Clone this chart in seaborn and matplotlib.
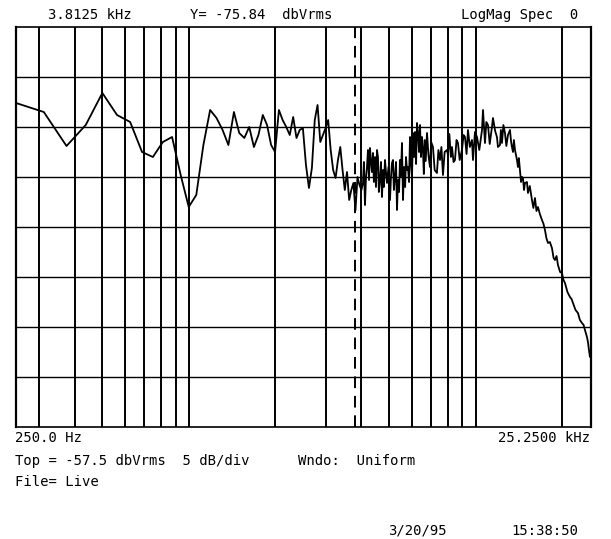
# spectrum analyzer screen: LogMag Spec, 250 Hz .. 25.25 kHz, log x axis

import numpy as np
import pandas as pd
import matplotlib
matplotlib.use("Agg")
import matplotlib.pyplot as plt
import seaborn as sns

# low band: one value per FFT bin (62.5 Hz steps from 250 Hz), dBVrms
bin_step = 62.5
low_levels = [
    -65.1, -66.0, -69.4, -67.3, -64.1, -66.3, -67.0, -70.0, -70.5, -69.0,
    -68.5, -72.3, -75.5, -74.3, -69.3, -65.8, -66.6, -67.8, -69.3, -66.0,
    -68.1, -68.6, -67.5, -69.5, -68.3, -66.3, -67.3, -69.3, -70.0, -65.8,
    -66.8, -67.5, -68.3, -66.5, -68.6, -67.8, -67.6, -71.3, -73.6, -71.6,
    -66.8, -65.3, -69.0, -68.3, -67.6, -66.8, -69.8, -71.8, -72.6, -70.8,
    -69.5, -71.8, -73.8, -72.0, -74.8, -73.8, -73.1, -75.84, -72.5, -73.3,
    -73.8,
]
low_freqs = 250 + bin_step * np.arange(len(low_levels))

high_freqs = [
    4049, 4080, 4115, 4150, 4182, 4216, 4250, 4285, 4320, 4353,
    4388, 4420, 4459, 4495, 4532, 4568, 4600, 4642, 4680, 4717,
    4755, 4790, 4832, 4870, 4910, 4970, 5030, 5070, 5112, 5153,
    5190, 5236, 5280, 5321, 5364, 5410, 5450, 5490, 5538, 5583,
    5630, 5680, 5720, 5765, 5812, 5860, 5906, 5950, 6002, 6050,
    6100, 6150, 6200, 6248, 6298, 6350, 6400, 6450, 6503, 6555,
    6600, 6650, 6700, 6770, 6850, 6934, 7000, 7102, 7200, 7333,
    7420, 7515, 7600, 7696, 7800, 7948, 8012, 8100, 8200, 8272,
    8380, 8474, 8580, 8681, 8800, 8965, 9080, 9183, 9300, 9407,
    9550, 9713, 9792, 9950, 10111, 10300, 10527, 10611, 10782, 10900,
    11045, 11200, 11405, 11496, 11700, 11869, 11965, 12160, 12250, 12357,
    12500, 12658, 12800, 12967, 13177, 13300, 13389, 13500, 13600, 13717,
    13940, 14050, 14150, 14278, 14400, 14510, 14627, 14750, 14862, 15103,
    15225, 15450, 15721, 15900, 16105, 16300, 16495, 16750, 17035, 17250,
    17449, 17650, 17875, 18150, 18457, 18700, 18907, 19150, 19369, 19700,
    20000, 20250, 20487, 20900, 21327, 21600, 21846, 22300, 22741, 23100,
    23485, 23800, 24055, 24443, 24640, 24840, 25040, 25250,
]
high_levels = [
    -73.1, -71.0, -75.3, -72.5, -71.5, -69.8, -72.8, -69.6, -71.0, -72.0,
    -70.1, -73.0, -70.5, -73.5, -69.8, -70.5, -74.0, -72.8, -71.0, -74.5,
    -71.8, -73.5, -70.8, -72.0, -73.1, -71.5, -74.8, -72.5, -71.1, -70.8,
    -73.8, -72.5, -71.0, -75.8, -72.8, -74.0, -70.8, -72.5, -69.1, -74.8,
    -71.5, -73.5, -70.5, -71.8, -71.5, -73.0, -68.5, -71.0, -72.5, -68.1,
    -70.5, -68.0, -71.2, -67.1, -68.1, -70.0, -67.3, -70.5, -68.5, -69.8,
    -72.2, -68.8, -70.9, -68.1, -70.3, -71.5, -69.0, -69.5, -71.8, -72.1,
    -69.8, -70.8, -69.5, -72.3, -70.0, -69.8, -70.3, -68.2, -70.5, -69.5,
    -71.0, -70.8, -68.8, -69.1, -70.8, -69.8, -68.3, -68.5, -70.2, -67.8,
    -69.5, -68.8, -70.8, -68.0, -68.5, -69.8, -67.8, -65.8, -69.1, -67.0,
    -67.3, -69.2, -67.5, -66.6, -67.9, -68.5, -69.5, -69.3, -67.8, -69.1,
    -67.3, -68.1, -69.4, -68.3, -67.8, -69.0, -69.5, -70.0, -68.8, -69.8,
    -70.8, -71.5, -70.6, -71.8, -73.0, -72.5, -72.6, -73.8, -73.1, -73.0,
    -74.1, -73.4, -74.8, -75.6, -74.6, -75.9, -75.5, -76.2, -76.8, -77.2,
    -77.8, -78.6, -79.1, -79.0, -79.6, -80.6, -80.8, -80.4, -81.3, -82.0,
    -82.1, -82.8, -83.1, -84.0, -84.5, -84.7, -85.1, -85.8, -86.1, -86.8,
    -87.1, -87.3, -87.8, -88.5, -89.0, -89.8, -90.5, -90.0,
]
assert len(high_freqs) == len(high_levels)

# screen settings
top_db = -57.5
db_per_div = 5
n_div = 8
f_start, f_stop = 250.0, 25250.0
marker_freq = 3812.5
grid_freqs = [300, 400, 500, 600, 700, 800, 900, 1000,
              2000, 3000, 4000, 5000, 6000, 7000, 8000, 9000, 10000, 20000]

df = pd.DataFrame({
    "freq": np.concatenate([low_freqs, high_freqs]),
    "level": np.concatenate([low_levels, high_levels]),
})

sns.set_style("white")
plt.rcParams["font.family"] = ["DejaVu Sans Mono", "DejaVu Sans"]

W, H = 611, 539
fig = plt.figure(figsize=(W / 100, H / 100), dpi=100)
ax = fig.add_axes([16 / W, 1 - 427 / H, 575 / W, 400 / H])

# graticule
for f in grid_freqs:
    ax.axvline(f, color="black", lw=1.4, zorder=1)
bottom_db = top_db - n_div * db_per_div
for k in range(1, n_div):
    ax.axhline(top_db - k * db_per_div, color="black", lw=1.0, zorder=1)
ax.axvline(marker_freq, color="black", lw=1.4, ls=(0, (6, 4)), zorder=1)

sns.lineplot(data=df, x="freq", y="level", ax=ax, color="black", lw=1.3,
             estimator=None, sort=False, zorder=3)

ax.set_xscale("log")
ax.set_xlim(f_start, f_stop)
ax.set_ylim(bottom_db, top_db)
ax.set_xticks([])
ax.set_yticks([])
ax.minorticks_off()
ax.set_xlabel("")
ax.set_ylabel("")
for side, sp in ax.spines.items():
    sp.set_color("black")
    sp.set_linewidth(1.6 if side in ("left", "right") else 1.2)

# screen annotations
fs = 10
def put(x, y, s, ha="left"):
    fig.text(x / W, 1 - y / H, s, ha=ha, va="center", fontsize=fs, color="black")

put(48, 15, "3.8125 kHz")
put(190, 15, "Y= -75.84  dbVrms")
put(578, 15, "LogMag Spec  0", ha="right")
put(15, 438, "250.0 Hz")
put(590, 438, "25.2500 kHz", ha="right")
put(15, 461, "Top = -57.5 dbVrms  5 dB/div")
put(298, 461, "Wndo:  Uniform")
put(15, 482, "File= Live")
put(388, 531, "3/20/95")
put(578, 531, "15:38:50", ha="right")

fig.savefig("out.png", dpi=100, facecolor="white")
plt.close(fig)
